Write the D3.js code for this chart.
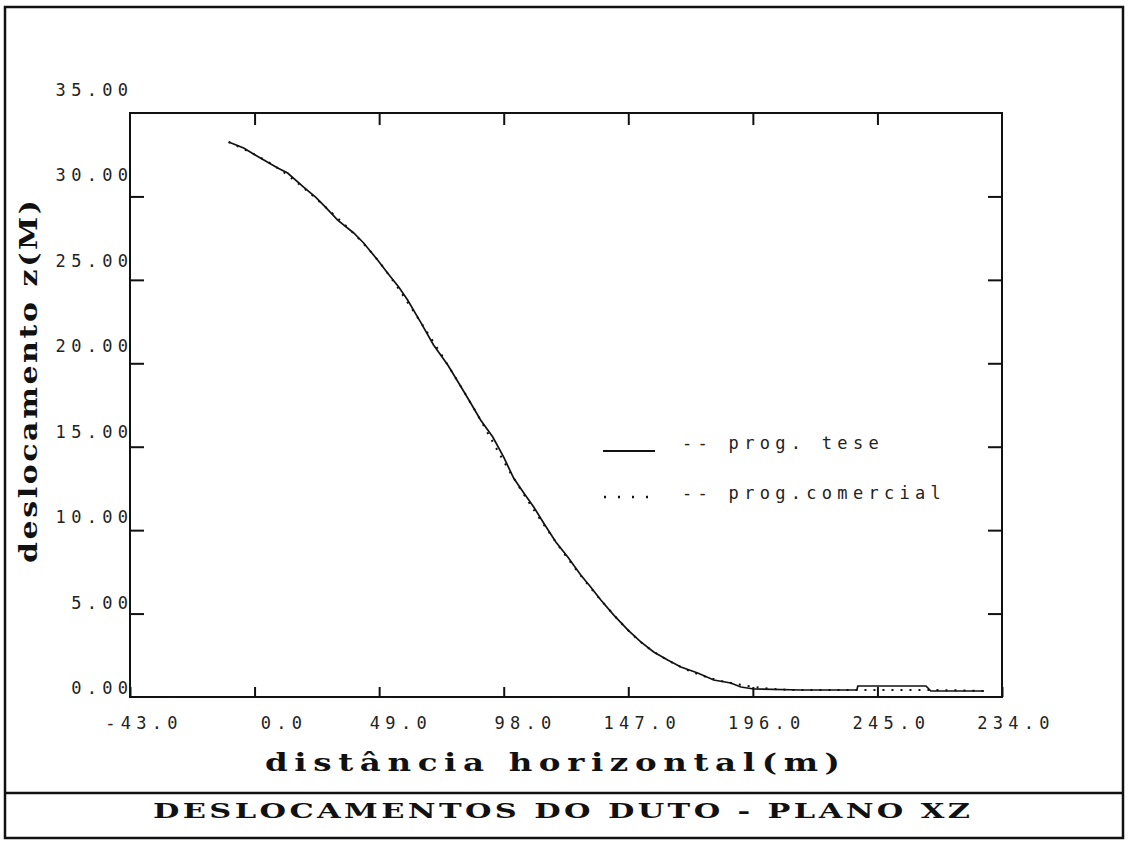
<!DOCTYPE html>
<html>
<head>
<meta charset="utf-8">
<title>Deslocamentos do duto - plano XZ</title>
<script src="https://d3js.org/d3.v7.min.js"></script>
<style>
  body { margin: 0; background: #fff; }
  .lbl { font-family: "DejaVu Sans Mono", monospace; font-size: 17px; fill: #222; letter-spacing: 5.3px; }
  .ttl { font-family: "DejaVu Serif", serif; font-weight: bold; fill: #111; }
</style>
</head>
<body>
<div id="vis"></div>
<script>
// data
var xTickValues = [-49, 0, 49, 98, 147, 196, 245, 294];
var xTickLabels = ["-43.0", "0.0", "49.0", "98.0", "147.0", "196.0", "245.0", "234.0"];
var yTickValues = [0, 5, 10, 15, 20, 25, 30, 35];
var yTickLabels = ["0.00", "5.00", "10.00", "15.00", "20.00", "25.00", "30.00", "35.00"];

// prog. tese (solid)
var teseX = [-10.2, -4.3, 1.6, 9.1, 13.0, 19.3, 24.0, 27.9, 32.7, 39.0, 42.9, 48.4, 52.3, 56.7, 60.2,
  65.3, 70.4, 76.0, 80.3, 85.0, 88.9, 93.7, 98.0, 101.9, 105.9, 109.8, 113.7, 118.5, 123.2, 128.3,
  132.2, 136.2, 141.3, 146.8, 151.9, 157.0, 162.5, 167.7, 174.3, 180.6, 187.3, 191.3, 196.4, 214.9,
  236.9, 237.3, 264.1, 266.0, 286.9];
var teseZ = [33.26, 32.90, 32.36, 31.70, 31.40, 30.56, 29.96, 29.36, 28.58, 27.81, 27.21, 26.19, 25.41, 24.57, 23.79,
  22.47, 21.10, 19.90, 18.82, 17.62, 16.60, 15.58, 14.38, 13.12, 12.23, 11.39, 10.43, 9.29, 8.39, 7.31,
  6.59, 5.81, 4.91, 4.02, 3.30, 2.70, 2.22, 1.80, 1.44, 1.02, 0.84, 0.60, 0.48, 0.42,
  0.42, 0.66, 0.66, 0.36, 0.36];

// prog.comercial (dotted)
var comX = [-10.2, 9.1, 27.9, 48.4, 65.3, 85.0, 101.9, 118.5, 136.2, 151.9, 167.7, 187.3, 214.9, 240.0, 264.0, 286.9];
var comZ = [33.26, 31.70, 29.36, 26.19, 22.47, 17.62, 13.12, 9.29, 5.81, 3.30, 1.80, 0.84, 0.42, 0.42, 0.42, 0.36];

var legendLabels = ["-- prog. tese", "-- prog.comercial"];

var W = 1132, H = 841;
var plot = { left: 130, top: 113, right: 1002, bottom: 697 };
var LS = 5.3; // letter spacing of tick labels

var svg = d3.select("#vis").append("svg")
  .attr("width", W)
  .attr("height", H);

// outer frame + title box
svg.append("rect")
  .attr("x", 5).attr("y", 7)
  .attr("width", 1118).attr("height", 831)
  .attr("fill", "none").attr("stroke", "#111").attr("stroke-width", 2.5);
svg.append("line")
  .attr("x1", 5).attr("x2", 1123).attr("y1", 793).attr("y2", 793)
  .attr("stroke", "#111").attr("stroke-width", 2.5);

var x = d3.scaleLinear().domain([-49, 294]).range([plot.left, plot.right]);
var y = d3.scaleLinear().domain([0, 35]).range([plot.bottom, plot.top]);
// tick labels of the original plotter sit on a slightly different grid
var yLab = d3.scaleLinear().domain([0, 35]).range([688, 90]);

var g = svg.append("g");

// plot frame
g.append("rect")
  .attr("x", plot.left).attr("y", plot.top)
  .attr("width", plot.right - plot.left).attr("height", plot.bottom - plot.top)
  .attr("fill", "none").attr("stroke", "#111").attr("stroke-width", 2);

// inner ticks on all four sides
var xBottom = g.append("g")
  .attr("transform", "translate(0," + plot.bottom + ")")
  .call(d3.axisBottom(x).tickValues(xTickValues).tickSize(-10)
    .tickFormat(function(d, i) { return xTickLabels[i]; }));
xBottom.select(".domain").remove();
xBottom.selectAll("line").attr("stroke", "#111").attr("stroke-width", 2);
xBottom.selectAll("text")
  .attr("class", "lbl")
  .attr("text-anchor", "end")
  .attr("x", 47 + LS)
  .attr("y", 26)
  .attr("dy", "0.35em")
  .attr("font-family", null).attr("font-size", null).attr("fill", null);

var xTop = g.append("g")
  .attr("transform", "translate(0," + plot.top + ")")
  .call(d3.axisTop(x).tickValues(xTickValues.slice(1, -1)).tickSize(-12).tickFormat(""));
xTop.select(".domain").remove();
xTop.selectAll("line").attr("stroke", "#111").attr("stroke-width", 2);

var yLeft = g.append("g")
  .attr("transform", "translate(" + plot.left + ",0)")
  .call(d3.axisLeft(y).tickValues(yTickValues.slice(1, -1)).tickSize(-14).tickFormat(""));
yLeft.select(".domain").remove();
yLeft.selectAll("line").attr("stroke", "#111").attr("stroke-width", 2);

var yRight = g.append("g")
  .attr("transform", "translate(" + plot.right + ",0)")
  .call(d3.axisRight(y).tickValues(yTickValues.slice(1, -1)).tickSize(-14).tickFormat(""));
yRight.select(".domain").remove();
yRight.selectAll("line").attr("stroke", "#111").attr("stroke-width", 2);

// y tick labels
g.append("g").selectAll("text")
  .data(yTickValues)
  .enter().append("text")
  .attr("class", "lbl")
  .attr("text-anchor", "end")
  .attr("x", 128 + LS)
  .attr("y", function(d) { return yLab(d); })
  .attr("dy", "0.35em")
  .text(function(d, i) { return yTickLabels[i]; });

// curves
var tese = teseX.map(function(v, i) { return [v, teseZ[i]]; });
var com = comX.map(function(v, i) { return [v, comZ[i]]; });
var line = d3.line()
  .x(function(d) { return x(d[0]); })
  .y(function(d) { return y(d[1]); });

g.append("path")
  .datum(com)
  .attr("d", line.curve(d3.curveMonotoneX))
  .attr("fill", "none")
  .attr("stroke", "#111")
  .attr("stroke-width", 2)
  .attr("stroke-dasharray", "2,7");

g.append("path")
  .datum(tese)
  .attr("d", line.curve(d3.curveLinear))
  .attr("fill", "none")
  .attr("stroke", "#111")
  .attr("stroke-width", 1.7);

// legend
var leg = g.append("g");
leg.append("line")
  .attr("x1", 603).attr("x2", 655).attr("y1", 451).attr("y2", 451)
  .attr("stroke", "#111").attr("stroke-width", 2);
leg.append("line")
  .attr("x1", 604).attr("x2", 650).attr("y1", 497).attr("y2", 497)
  .attr("stroke", "#111").attr("stroke-width", 2.5)
  .attr("stroke-dasharray", "2,12");
leg.selectAll("text")
  .data(legendLabels)
  .enter().append("text")
  .attr("class", "lbl")
  .attr("x", 682)
  .attr("y", function(d, i) { return 443 + i * 50; })
  .attr("dy", "0.35em")
  .text(function(d) { return d; });

// titles: wide bitmap-like lettering, stretched horizontally
function wideText(tx, ty, rot, sx, size, len, str) {
  svg.append("text")
    .attr("class", "ttl")
    .attr("transform", "translate(" + tx + "," + ty + ") rotate(" + rot + ") scale(" + sx + ",1)")
    .attr("font-size", size)
    .attr("textLength", len / sx)
    .attr("lengthAdjust", "spacing")
    .text(str);
}
wideText(265, 771, 0, 1.3, 25, 575, "distância horizontal(m)");
wideText(37, 563, -90, 1.2, 25, 363, "deslocamento z(M)");
wideText(153, 818, 0, 1.45, 21, 817, "DESLOCAMENTOS DO DUTO - PLANO XZ");
</script>
</body>
</html>
